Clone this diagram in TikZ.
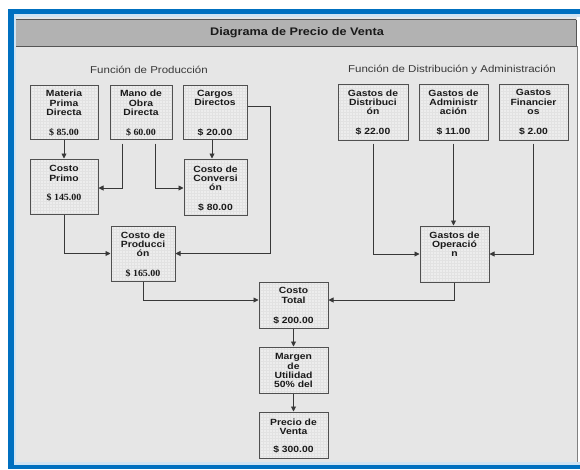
\documentclass[tikz,border=0pt]{standalone}
\usepackage{fontspec}
\setmainfont{Liberation Sans}[FakeStretch=1.15]
\newfontfamily\serifb{Liberation Serif}[FakeStretch=1.05]
\usetikzlibrary{arrows.meta,calc}
\definecolor{frameblue}{HTML}{0070C0}
\definecolor{lightblue}{HTML}{CFE3F3}
\definecolor{bodygray}{HTML}{E6E6E6}
\definecolor{headgray}{HTML}{B2B2B2}
\definecolor{darkline}{HTML}{555555}
\definecolor{boxfill}{HTML}{EDEDED}
\definecolor{gridc}{HTML}{E2E2E2}
\definecolor{boxline}{HTML}{505050}
\definecolor{linec}{HTML}{383838}
\definecolor{txt}{HTML}{1A1A1A}
\tikzset{
  cbox/.style={rectangle, draw=boxline, line width=1pt, fill=boxfill, inner sep=0pt,
    path picture={\draw[gridc, line width=0.25pt, step=3pt]
      (path picture bounding box.south west) grid (path picture bounding box.north east);}},
  btext/.style={font=\bfseries\fontsize{9}{9.3}\selectfont, align=center, inner sep=0pt, text=txt},
  bval/.style={font=\bfseries\fontsize{9}{9.3}\selectfont, inner sep=0pt, text=txt},
  sval/.style={font=\serifb\bfseries\fontsize{9.5}{10}\selectfont, inner sep=0pt, text=txt},
  arr/.style={draw=linec, line width=0.9pt, -{Triangle[length=5pt,width=5pt]}},
  seclabel/.style={font=\fontsize{10}{12}\selectfont, text=linec, inner sep=0pt}
}
\begin{document}
\begin{tikzpicture}[x=1pt,y=-1pt]
\useasboundingbox (0,0) rectangle (580,469);
\fill[white] (0,0) rectangle (580,469);
% body and frame
\fill[bodygray] (14,14) rectangle (577,466);
\fill[headgray] (15,19) rectangle (576,46);
\draw[darkline, line width=0.8pt] (15,19.5) -- (576,19.5);
\draw[darkline, line width=0.8pt] (15,46) -- (577,46);
\draw[darkline, line width=0.6pt] (576,19.5) -- (576,46);
\draw[gray, line width=0.5pt] (577,46) -- (577,465);
\fill[lightblue] (14,14) rectangle (580,17);
\fill[lightblue] (14,14) rectangle (16,466);
\fill[lightblue] (14,462) rectangle (580,465);
\fill[frameblue] (8,9) rectangle (580,14);
\fill[frameblue] (8,9) rectangle (14,469);
\fill[frameblue] (8,465) rectangle (580,469);
% header and section labels
\node[font=\bfseries\fontsize{11}{13}\selectfont, text=txt, inner sep=0pt] (title) at (297,32.5) {Diagrama de Precio de Venta};
\node[seclabel] (fp) at (149,69.5) {Función de Producción};
\node[seclabel] (fd) at (452,69.5) {Función de Distribución y Administración};
% boxes
\node[cbox, minimum width=68pt, minimum height=54pt] (mp) at (64,112) {};
\node[cbox, minimum width=62pt, minimum height=54pt] (mo) at (141,112) {};
\node[cbox, minimum width=64pt, minimum height=54pt] (cd) at (215,112) {};
\node[cbox, minimum width=68pt, minimum height=55pt] (cp) at (64,186.5) {};
\node[cbox, minimum width=63pt, minimum height=56pt] (cv) at (215.5,187) {};
\node[cbox, minimum width=64pt, minimum height=55pt] (pr) at (143,253.5) {};
\node[cbox, minimum width=70pt, minimum height=56pt] (gd) at (373,112) {};
\node[cbox, minimum width=69pt, minimum height=56pt] (ga) at (453.5,112) {};
\node[cbox, minimum width=69pt, minimum height=56pt] (gf) at (533.5,112) {};
\node[cbox, minimum width=69pt, minimum height=56pt] (op) at (454.5,254) {};
\node[cbox, minimum width=69pt, minimum height=46pt] (ct) at (293.5,305) {};
\node[cbox, minimum width=69pt, minimum height=46pt] (mu) at (293.5,370) {};
\node[cbox, minimum width=69pt, minimum height=46pt] (pv) at (293.5,435) {};
% box texts
\node[btext, anchor=north] (mpt) at ([yshift=-5.5pt]mp.north) {Materia\\Prima\\Directa};
\node[sval] (mpv) at (64,132) {\$ 85.00};
\node[btext, anchor=north] (mot) at ([yshift=-5.5pt]mo.north) {Mano de\\Obra\\Directa};
\node[sval] (mov) at (141,132) {\$ 60.00};
\node[btext, anchor=north] (cdt) at ([yshift=-5.5pt]cd.north) {Cargos\\Directos};
\node[bval] (cdv) at (215,132) {\$ 20.00};
\node[btext, anchor=north] (cpt) at ([yshift=-7pt]cp.north) {Costo\\Primo};
\node[sval] (cpv) at (64,197) {\$ 145.00};
\node[btext, anchor=north] (cvt) at ([yshift=-7pt]cv.north) {Costo de\\Conversi\\ón};
\node[bval] (cvv) at (215.5,207) {\$ 80.00};
\node[btext, anchor=north] (prt) at ([yshift=-6pt]pr.north) {Costo de\\Producci\\ón};
\node[sval] (prv) at (143,273) {\$ 165.00};
\node[btext, anchor=north] (gdt) at ([yshift=-6pt]gd.north) {Gastos de\\Distribuci\\ón};
\node[bval] (gdv) at (373,131) {\$ 22.00};
\node[btext, anchor=north] (gat) at ([yshift=-6pt]ga.north) {Gastos de\\Administr\\ación};
\node[bval] (gav) at (453.5,131) {\$ 11.00};
\node[btext, anchor=north] (gft) at ([yshift=-6pt]gf.north) {Gastos\\Financier\\os};
\node[bval] (gfv) at (533.5,131) {\$ 2.00};
\node[btext, anchor=north] (opt) at ([yshift=-6pt]op.north) {Gastos de\\Operació\\n};
\node[btext, anchor=north] (ctt) at ([yshift=-6pt]ct.north) {Costo\\Total};
\node[bval] (ctv) at (293.5,320) {\$ 200.00};
\node[btext, anchor=north] (mut) at ([yshift=-7pt]mu.north) {Margen\\de\\Utilidad\\50\% del};
\node[btext, anchor=north] (pvt) at ([yshift=-7pt]pv.north) {Precio de\\Venta};
\node[bval] (pvv) at (293.5,449) {\$ 300.00};
% connectors
\draw[arr] (mp.south) -- (cp.north);
\draw[arr] ([xshift=-19pt,yshift=-4pt]mo.south) |- ([yshift=-1.5pt]cp.east);
\draw[arr] ([xshift=14pt,yshift=-4pt]mo.south) |- ([yshift=-1pt]cv.west);
\draw[arr] ([xshift=-3pt]cd.south) -- ([xshift=-3pt]cd.south |- cv.north);
\draw[arr] ([yshift=6pt]cd.east) -| ($(pr.east)+(95,0)$) -- (pr.east);
\draw[arr] (cp.south) |- (pr.west);
\draw[arr] (pr.south) |- ([yshift=5pt]ct.west);
\draw[arr] (op.south) |- ([yshift=5pt]ct.east);
\draw[arr] ([yshift=-3pt]gd.south) |- (op.west);
\draw[arr] ([yshift=-3pt]ga.south) -- (ga.south |- op.north);
\draw[arr] ([yshift=-3pt]gf.south) |- (op.east);
\draw[arr] (ct.south) -- (mu.north);
\draw[arr] (mu.south) -- (pv.north);
\end{tikzpicture}
\end{document}
